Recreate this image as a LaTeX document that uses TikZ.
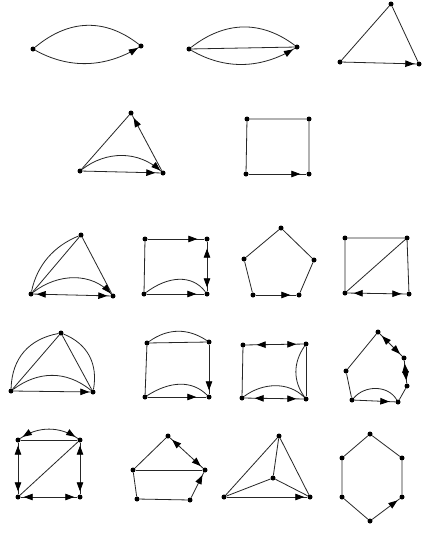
\documentclass[tikz,border=0pt]{standalone}
\usetikzlibrary{arrows.meta,decorations.markings}
\tikzset{
  v/.style={circle,fill=black,inner sep=0pt,minimum size=5pt},
  ed/.style={draw=black!85,line width=0.8pt},
  tipat/.style={postaction={decorate,decoration={markings,mark=at position #1 with {\arrow{Triangle[length=9pt,width=6.5pt,color=black,fill=black]}}}}},
  rtipat/.style={postaction={decorate,decoration={markings,mark=at position #1 with {\arrowreversed{Triangle[length=9pt,width=6.5pt,color=black,fill=black]}}}}},
}
\begin{document}
\begin{tikzpicture}[x=1pt,y=-1pt]
\useasboundingbox (0,0) rectangle (424,533);
\fill[white] (0,0) rectangle (424,533);
% G1
\node[v] (a1) at (33,49) {}; \node[v] (a2) at (141,46) {};
\draw[ed] (a1) .. controls (69,19) and (105,18) .. (a2);
\draw[ed,tipat=-1pt] (a1) .. controls (69,69) and (105,68) .. (a2);
% G2
\node[v] (b1) at (189,49) {}; \node[v] (b2) at (297,47) {};
\draw[ed] (b1) .. controls (225,21) and (261,20) .. (b2);
\draw[ed] (b1) -- (b2);
\draw[ed,tipat=-2pt] (b1) .. controls (225,70) and (261,69) .. (b2);
% G3
\node[v] (c1) at (391,4) {}; \node[v] (c2) at (340,62) {}; \node[v] (c3) at (419,64) {};
\draw[ed] (c2) -- (c1) -- (c3);
\draw[ed,tipat=-2pt] (c2) -- (c3);
% G4
\node[v] (d1) at (131,113) {}; \node[v] (d2) at (80,171) {}; \node[v] (d3) at (163,173) {};
\draw[ed] (d2) -- (d1);
\draw[ed,tipat=-3pt] (d3) -- (d1);
\draw[ed,tipat=-5pt] (d2) -- (d3);
\draw[ed,tipat=-1pt] (d2) .. controls (106,151) and (138,150) .. (d3);
% G5
\node[v] (e1) at (247,119) {}; \node[v] (e2) at (309,119) {};
\node[v] (e3) at (246,174) {}; \node[v] (e4) at (309,174) {};
\draw[ed] (e4) -- (e2) -- (e1) -- (e3);
\draw[ed,tipat=-6pt] (e3) -- (e4);
% G6
\node[v] (f1) at (81,235) {}; \node[v] (f2) at (31,294) {}; \node[v] (f3) at (113,296) {};
\draw[ed] (f2) -- (f1) -- (f3);
\draw[ed] (f2) .. controls (37,265) and (54,246) .. (f1);
\draw[ed,tipat=-3pt,rtipat=3pt] (f2) -- (f3);
\draw[ed,tipat=-1pt] (f2) .. controls (58,273) and (92,272) .. (f3);
% G7
\node[v] (g1) at (145,239) {}; \node[v] (g2) at (207,239) {};
\node[v] (g3) at (144,294) {}; \node[v] (g4) at (207,294) {};
\draw[ed] (g1) -- (g3);
\draw[ed,tipat=-7pt] (g1) -- (g2);
\draw[ed,tipat=-4pt,rtipat=7pt] (g2) -- (g4);
\draw[ed,tipat=-8pt] (g3) -- (g4);
\draw[ed] (g3) .. controls (168,276) and (192,274) .. (g4);
% G8
\node[v] (h1) at (281,228) {}; \node[v] (h2) at (244,259) {}; \node[v] (h3) at (314,260) {};
\node[v] (h4) at (253,295) {}; \node[v] (h5) at (299,295) {};
\draw[ed] (h5) -- (h3) -- (h1) -- (h2) -- (h4);
\draw[ed,tipat=-6pt] (h4) -- (h5);
% G9
\node[v] (i1) at (345,238) {}; \node[v] (i2) at (407,238) {};
\node[v] (i3) at (345,293) {}; \node[v] (i4) at (409,294) {};
\draw[ed] (i3) -- (i1) -- (i2) -- (i4);
\draw[ed] (i3) -- (i2);
\draw[ed,tipat=-5pt,rtipat=6pt] (i3) -- (i4);
% G10
\node[v] (j1) at (61,333) {}; \node[v] (j2) at (11,391) {}; \node[v] (j3) at (93,392) {};
\draw[ed] (j2) -- (j1) -- (j3);
\draw[ed] (j2) .. controls (12,358) and (29,339) .. (j1);
\draw[ed] (j1) .. controls (88,344) and (98,364) .. (j3);
\draw[ed,tipat=-1pt] (j2) -- (j3);
\draw[ed] (j2) .. controls (38,371) and (66,370) .. (j3);
% G11
\node[v] (k1) at (147,343) {}; \node[v] (k2) at (209,342) {};
\node[v] (k3) at (145,397) {}; \node[v] (k4) at (209,397) {};
\draw[ed] (k1) -- (k3);
\draw[ed] (k1) -- (k2);
\draw[ed] (k1) .. controls (168,328) and (188,328) .. (k2);
\draw[ed,tipat=-4pt] (k2) -- (k4);
\draw[ed,tipat=-10pt] (k3) -- (k4);
\draw[ed] (k3) .. controls (170,381) and (192,380) .. (k4);
% G12
\node[v] (l1) at (243,345) {}; \node[v] (l2) at (306,344) {};
\node[v] (l3) at (242,398) {}; \node[v] (l4) at (306,399) {};
\draw[ed] (l1) -- (l3);
\draw[ed,tipat=-7pt,rtipat=11pt] (l1) -- (l2);
\draw[ed,tipat=-7pt,rtipat=10pt] (l3) -- (l4);
\draw[ed] (l2) -- (l4);
\draw[ed] (l2) .. controls (293,363) and (293,381) .. (l4);
\draw[ed] (l3) .. controls (262,383) and (288,381) .. (l4);
% G13
\node[v] (m1) at (378,332) {}; \node[v] (m2) at (404,358) {}; \node[v] (m3) at (407,386) {};
\node[v] (m4) at (398,402) {}; \node[v] (m5) at (352,400) {}; \node[v] (m6) at (346,371) {};
\draw[ed] (m1) -- (m6) -- (m5);
\draw[ed,tipat=-3pt,rtipat=3pt] (m1) -- (m2);
\draw[ed,tipat=-3pt,rtipat=3pt] (m2) -- (m3);
\draw[ed] (m3) -- (m4);
\draw[ed,tipat=-6pt] (m5) -- (m4);
\draw[ed] (m5) .. controls (365,385) and (388,385) .. (m4);
% G14
\node[v] (n1) at (18,440) {}; \node[v] (n2) at (80,440) {};
\node[v] (n3) at (18,497) {}; \node[v] (n4) at (80,497) {};
\draw[ed] (n1) -- (n2);
\draw[ed,tipat=-3pt,rtipat=3pt] (n1) .. controls (38,426) and (60,426) .. (n2);
\draw[ed,tipat=-3pt,rtipat=3pt] (n1) -- (n3);
\draw[ed,tipat=-3pt,rtipat=3pt] (n2) -- (n4);
\draw[ed,tipat=-3pt,rtipat=3pt] (n3) -- (n4);
\draw[ed] (n3) -- (n2);
% G15
\node[v] (o1) at (168,436) {}; \node[v] (o2) at (133,470) {}; \node[v] (o3) at (205,470) {};
\node[v] (o4) at (137,499) {}; \node[v] (o5) at (190,500) {};
\draw[ed] (o1) -- (o2) -- (o4);
\draw[ed] (o2) -- (o3);
\draw[ed,tipat=-3pt,rtipat=3pt] (o1) -- (o3);
\draw[ed,tipat=-3pt] (o5) -- (o3);
\draw[ed] (o4) -- (o5);
% G16
\node[v] (p1) at (279,436) {}; \node[v] (p2) at (224,497) {}; \node[v] (p3) at (310,497) {};
\node[v] (p4) at (273,478) {};
\draw[ed] (p2) -- (p1) -- (p3);
\draw[ed,tipat=-3pt] (p2) -- (p3);
\draw[ed] (p4) -- (p1); \draw[ed] (p4) -- (p2); \draw[ed] (p4) -- (p3);
% G17
\node[v] (q1) at (370,434) {}; \node[v] (q2) at (342,458) {}; \node[v] (q3) at (402,458) {};
\node[v] (q4) at (342,497) {}; \node[v] (q5) at (402,497) {}; \node[v] (q6) at (370,521) {};
\draw[ed] (q5) -- (q3) -- (q1) -- (q2) -- (q4) -- (q6);
\draw[ed,tipat=-3pt] (q6) -- (q5);
\end{tikzpicture}
\end{document}
